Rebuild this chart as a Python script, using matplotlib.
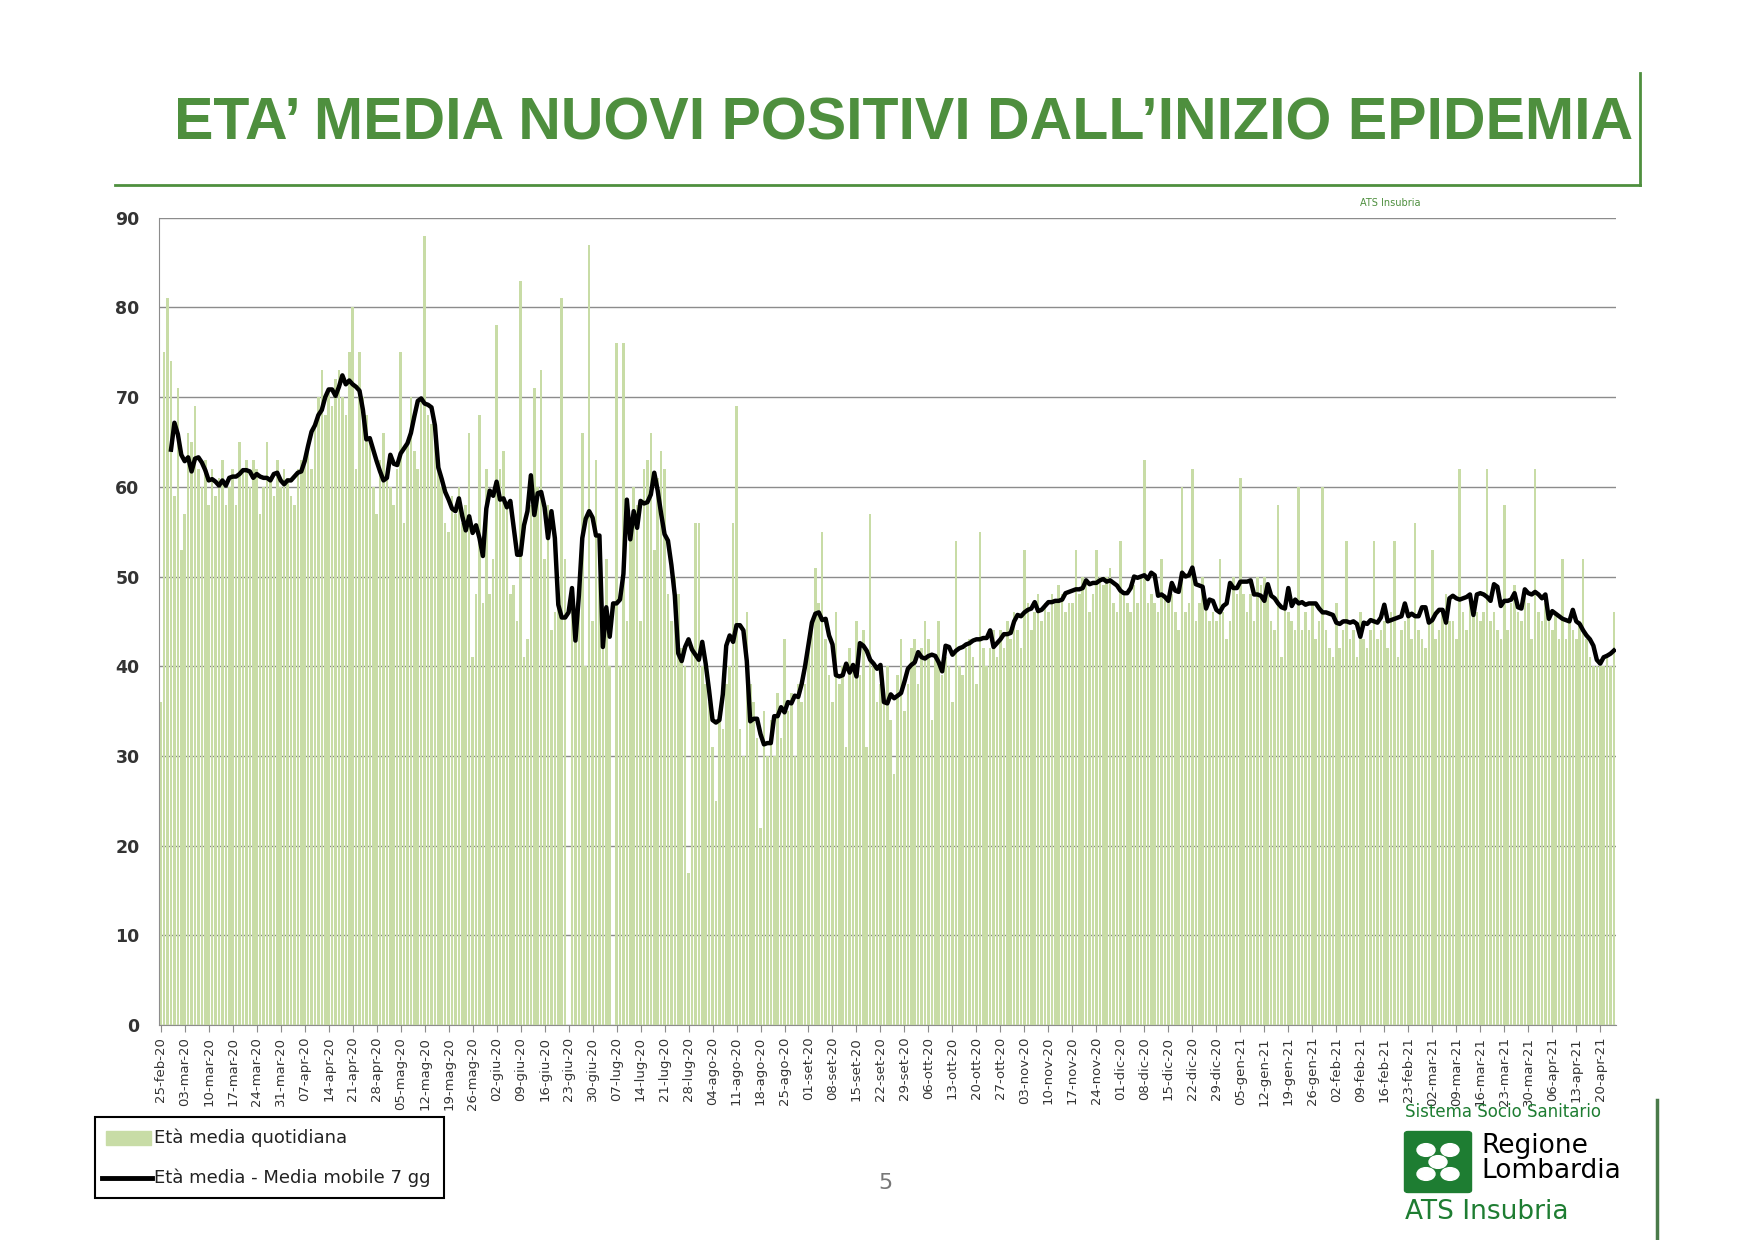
import numpy as np
import pandas as pd
import matplotlib
matplotlib.use("Agg")
import matplotlib.pyplot as plt
from matplotlib.patches import FancyBboxPatch, Circle, Rectangle
from matplotlib.lines import Line2D

# daily mean age of new positives, one row per week starting 25-feb-20
daily = [
    36, 75, 81, 74, 59, 71, 53,
    57, 66, 65, 69, 62, 60, 63,
    58, 62, 59, 61, 63, 58, 60,
    62, 58, 65, 62, 63, 60, 63,
    62, 57, 60, 65, 61, 59, 63,
    60, 62, 61, 59, 58, 62, 63,
    63, 65, 62, 67, 70, 73, 68,
    71, 69, 72, 73, 70, 68, 75,
    80, 62, 75, 70, 68, 65, 60,
    57, 63, 66, 61, 60, 58, 62,
    75, 56, 65, 70, 64, 62, 70,
    88, 68, 67, 66, 63, 60, 56,
    55, 59, 57, 60, 56, 58, 66,
    41, 48, 68, 47, 62, 48, 52,
    78, 62, 64, 58, 48, 49, 45,
    83, 41, 43, 58, 71, 60, 73,
    52, 58, 44, 46, 47, 81, 52,
    0, 48, 44, 50, 66, 40, 87,
    45, 63, 50, 45, 52, 40, 0,
    76, 40, 76, 45, 55, 60, 58,
    45, 62, 63, 66, 53, 61, 64,
    62, 48, 45, 50, 48, 42, 40,
    17, 42, 56, 56, 40, 38, 36,
    31, 25, 35, 33, 38, 40, 56,
    69, 33, 30, 46, 38, 36, 32,
    22, 35, 30, 34, 30, 37, 32,
    43, 35, 37, 30, 38, 36, 38,
    42, 45, 51, 47, 55, 43, 39,
    36, 46, 38, 40, 31, 42, 40,
    45, 39, 44, 31, 57, 40, 36,
    38, 36, 40, 34, 28, 39, 43,
    35, 38, 42, 43, 38, 42, 45,
    43, 34, 41, 45, 39, 41, 40,
    36, 54, 40, 39, 42, 43, 41,
    38, 55, 42, 40, 42, 44, 41,
    44, 42, 45, 43, 46, 44, 42,
    53, 47, 44, 46, 48, 45, 47,
    46, 48, 47, 49, 48, 46, 47,
    47, 53, 48, 50, 49, 46, 48,
    53, 50, 49, 50, 51, 47, 46,
    54, 48, 47, 46, 49, 47, 50,
    63, 47, 48, 47, 46, 52, 48,
    47, 48, 46, 44, 60, 46, 47,
    62, 45, 47, 50, 47, 45, 46,
    45, 52, 46, 43, 45, 50, 48,
    61, 48, 46, 48, 45, 50, 49,
    50, 48, 45, 44, 58, 41, 47,
    46, 45, 44, 60, 44, 46, 44,
    47, 43, 45, 60, 44, 42, 41,
    47, 42, 44, 54, 43, 44, 41,
    46, 43, 42, 44, 54, 43, 44,
    45, 42, 46, 54, 41, 44, 45,
    46, 43, 56, 44, 43, 42, 45,
    53, 43, 44, 46, 48, 45, 45,
    43, 62, 46, 44, 47, 46, 46,
    45, 46, 62, 45, 46, 44, 43,
    58, 44, 47, 49, 46, 45, 48,
    47, 43, 62, 46, 45, 47, 46,
    44, 46, 43, 52, 43, 45, 44,
    43, 45, 52, 43, 41, 40, 40,
    40, 40, 41, 40, 46,
]
start_date = "2020-02-25"
mesi = ["gen", "feb", "mar", "apr", "mag", "giu",
        "lug", "ago", "set", "ott", "nov", "dic"]

GREEN = "#4e8f3e"
BAR = "#c8dca6"

dates = pd.date_range(start_date, periods=len(daily), freq="D")
s = pd.Series(daily, dtype=float)
mm7 = s.rolling(7, center=True, min_periods=4).mean()
x = np.arange(len(daily))

fig = plt.figure(figsize=(17.55, 12.4), dpi=100)
ax = fig.add_axes([0.0906, 0.1734, 0.830, 0.651])
ax.bar(x, daily, width=0.75, color=BAR, zorder=2)
ax.plot(x[3:], mm7[3:], color="black", lw=3.2, zorder=3)

ax.set_xlim(-0.5, len(daily) - 0.5)
ax.set_ylim(0, 90)
ax.set_yticks(range(0, 91, 10))
ax.yaxis.grid(True, color="#8c8c8c", lw=1, zorder=0)
for sp in ["top", "right"]:
    ax.spines[sp].set_visible(False)
ax.spines["left"].set_color("#8c8c8c")
ax.spines["bottom"].set_color("#8c8c8c")
ax.tick_params(axis="y", length=0, labelsize=12.5, labelcolor="#333333", pad=14)
for t in ax.get_yticklabels():
    t.set_fontweight("bold")
tick_idx = x[::7]
labels = [f"{d.day:02d}-{mesi[d.month - 1]}-{d.strftime('%y')}" for d in dates[::7]]
ax.set_xticks(tick_idx)
ax.set_xticklabels(labels, rotation=90, fontsize=9.5, color="#333333")
ax.tick_params(axis="x", length=5, color="#8c8c8c")

# header
fig.text(0.515, 0.9, "ETA\u2019 MEDIA NUOVI POSITIVI DALL\u2019INIZIO EPIDEMIA",
         ha="center", va="center", fontsize=42.5, fontweight="bold",
         color=GREEN, family="Liberation Sans")
fig.add_artist(Line2D([115 / 1755, 1640 / 1755], [1 - 185 / 1240] * 2,
                      color=GREEN, lw=2))
fig.add_artist(Line2D([1640 / 1755] * 2, [1 - 73 / 1240, 1 - 185 / 1240],
                      color=GREEN, lw=2))
fig.text(1390 / 1755, 1 - 203 / 1240, "ATS Insubria", fontsize=7,
         color=GREEN, ha="center", va="center")

# legend box
fig.add_artist(Rectangle((95 / 1755, 1 - 1198 / 1240), 349 / 1755, 81 / 1240,
                         fill=False, ec="black", lw=1.5))
fig.add_artist(Rectangle((106 / 1755, 1 - 1145 / 1240), 45 / 1755, 14 / 1240,
                         color=BAR))
fig.text(154 / 1755, 1 - 1138 / 1240, "Età media quotidiana", fontsize=13,
         va="center", color="#222222")
fig.add_artist(Line2D([102 / 1755, 152 / 1755], [1 - 1178 / 1240] * 2,
                      color="black", lw=3.5))
fig.text(154 / 1755, 1 - 1178 / 1240, "Età media - Media mobile 7 gg",
         fontsize=13, va="center", color="#222222")

fig.text(885 / 1755, 1 - 1183 / 1240, "5", fontsize=16, color="#777777",
         ha="center", va="center")

# logo
LG = "#1e7d32"
fig.text(1405 / 1755, 1 - 1112 / 1240, "Sistema Socio Sanitario", fontsize=12,
         color=LG, va="center")
fig.add_artist(FancyBboxPatch((1408 / 1755, 1 - 1190 / 1240), 60 / 1755, 56 / 1240,
                              boxstyle="round,pad=0.002", color=LG))
cx, cy = 1438 / 1755, 1 - 1162 / 1240
for dx, dy in [(-12, -12), (12, -12), (-12, 12), (12, 12), (0, 0)]:
    fig.add_artist(Circle((cx + dx / 1755, cy + dy / 1240), 9 / 1755,
                          color="white", transform=fig.transFigure))
fig.text(1481 / 1755, 1 - 1146 / 1240, "Regione", fontsize=19, va="center")
fig.text(1481 / 1755, 1 - 1171 / 1240, "Lombardia", fontsize=19, va="center")
fig.text(1405 / 1755, 1 - 1212 / 1240, "ATS Insubria", fontsize=19,
         color=LG, va="center")
fig.add_artist(Line2D([1657 / 1755] * 2, [0, 1 - 1100 / 1240],
                      color="#4a7a4a", lw=2.5))

fig.savefig("out.png", dpi=100)
